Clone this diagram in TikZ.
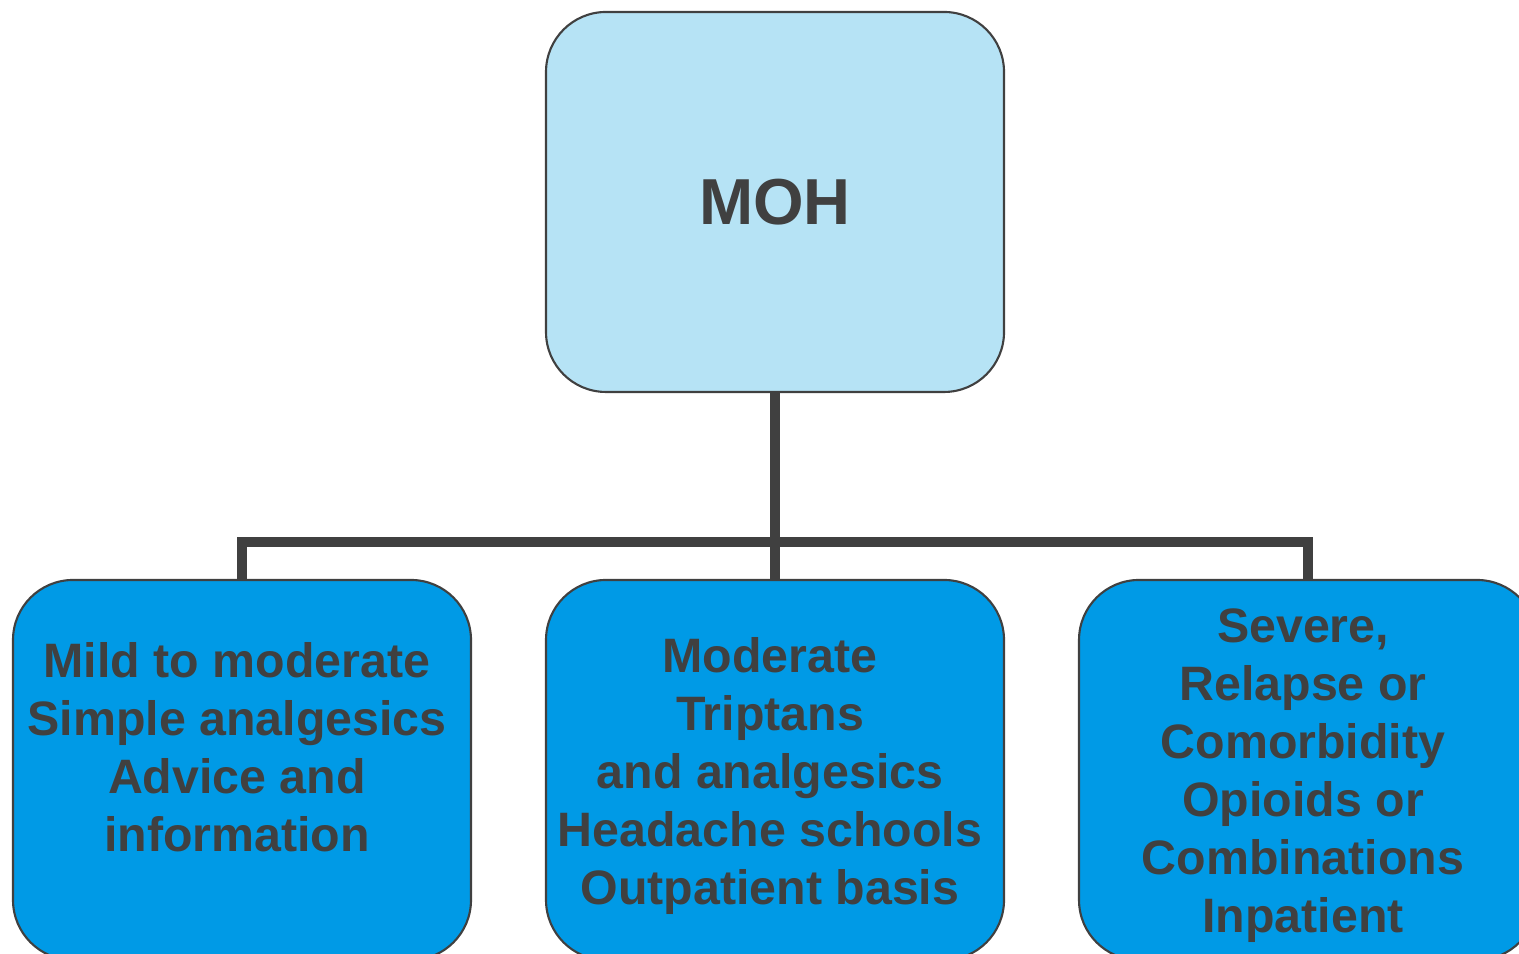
\documentclass[tikz,border=0pt]{standalone}
\usepackage{fontspec}
\setmainfont{Liberation Sans}
\definecolor{txtgray}{HTML}{404040}
\definecolor{lightsky}{HTML}{B6E3F5}
\definecolor{deepsky}{HTML}{009AE6}
\tikzset{
  topbox/.style={draw=txtgray, line width=0.6pt, fill=lightsky, rounded corners=0.6cm,
    minimum width=4.58cm, minimum height=3.8cm, align=center, text=txtgray,
    font=\fontsize{18.5}{22}\selectfont\bfseries},
  leafbox/.style={draw=txtgray, line width=0.6pt, fill=deepsky, rounded corners=0.6cm,
    minimum width=4.58cm, minimum height=3.8cm},
  leaftext/.style={align=center, text=txtgray, xshift=-0.05cm, yshift=-0.06cm,
    font=\fontsize{13.75}{16.5}\selectfont\bfseries},
  branch/.style={draw=txtgray, line width=2.6pt}
}
\begin{document}
\begin{tikzpicture}

  \useasboundingbox (0,0) rectangle (15.19,9.54);
  \clip (0,0) rectangle (15.19,9.54);

  % Root
  \node[topbox] (moh) at (7.75,7.52) {MOH};

  % Bus line
  \coordinate (bus) at (7.75,4.12);

  % Leaves
  \node[leafbox] (mild) at (2.42,1.84) {};
  \node[leaftext] (mildtxt) at (mild.center)
    {Mild to moderate\\Simple analgesics\\Advice and\\information\\\mbox{}};
  \node[leafbox] (moderate) at (7.75,1.84) {};
  \node[leaftext] (moderatetxt) at (moderate.center)
    {Moderate\\Triptans\\and analgesics\\Headache schools\\Outpatient basis};
  \node[leafbox] (severe) at (13.08,1.84) {};
  \node[leaftext] (severetxt) at (severe.center)
    {Severe,\\Relapse or\\Comorbidity\\Opioids or\\Combinations\\Inpatient};

  % Connectors
  \draw[branch] (moh.south) -- (bus);
  \draw[branch] (bus) -| (mild.north);
  \draw[branch] (bus) -- (moderate.north);
  \draw[branch] (bus) -| (severe.north);

\end{tikzpicture}
\end{document}
